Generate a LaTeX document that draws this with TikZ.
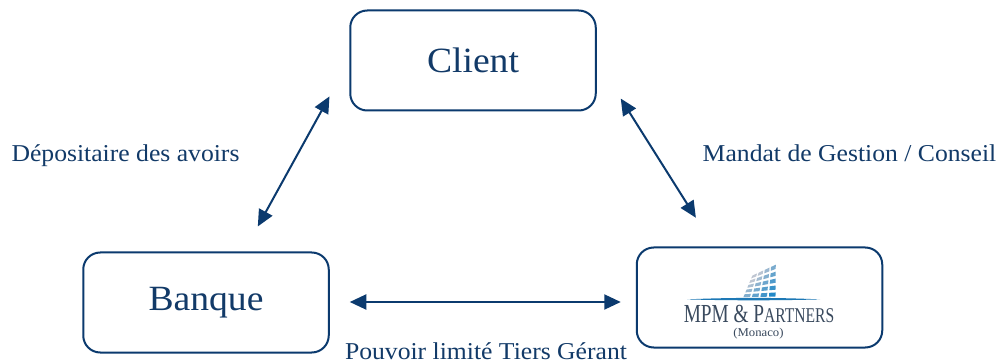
\documentclass[tikz,border=0pt]{standalone}
\usepackage{fontspec}
\setmainfont[FakeStretch=1.06]{Liberation Serif}
\usetikzlibrary{arrows.meta,calc}
\definecolor{navy}{HTML}{0B3A6E}
\definecolor{txt}{HTML}{123A68}
\definecolor{logoT}{HTML}{3A4A5E}
\definecolor{cellA}{HTML}{2389C8}
\definecolor{cellB}{HTML}{BFC6D2}
\tikzset{
 box/.style={draw=navy,line width=2pt,rounded corners=17pt,minimum width=245.5pt,minimum height=100pt,inner sep=0pt,text=txt,font=\fontsize{35.5}{36}\selectfont},
 lab/.style={text=txt,font=\fontsize{24.2}{26}\selectfont,inner sep=0pt,anchor=base},
 link/.style={draw=navy,line width=2pt,{Triangle[length=16.5pt,width=15pt]}-{Triangle[length=16.5pt,width=15pt]}},
 logoname/.style={text=logoT,inner sep=0pt,anchor=base}
}
\begin{document}
\begin{tikzpicture}[x=1pt,y=-1pt]
\useasboundingbox (0,0) rectangle (1003,363);
\fill[white] (0,0) rectangle (1003,363);
\node[box] (client) at (473,60.5) {Client};
\node[box] (banque) at (206,302.5) {Banque};
\node[box] (mpm) at (759.5,297.5) {};
\node[lab] (l1) at (125.5,162) {Dépositaire des avoirs};
\node[lab] (l2) at (849.5,162) {Mandat de Gestion / Conseil};
\node[lab] (l3) at (486,359.5) {Pouvoir limité Tiers Gérant};
\draw[link,shorten <=41pt,shorten >=28.6pt] (client.west) -- ([xshift=38pt]banque.north);
\draw[link,shorten <=45pt,shorten >=34pt] (client.east) -- ([xshift=-45.5pt]mpm.north);
\draw[link,shorten <=20pt,shorten >=15pt] ([yshift=0.5pt]banque.east) -- ([yshift=0.5pt]banque.east -| mpm.west);
% logo
\foreach \i in {0,...,3}{\foreach \j in {0,...,4}{
 \pgfmathsetmacro{\ua}{\i/4+0.03}\pgfmathsetmacro{\ub}{(\i+1)/4-0.03}
 \pgfmathsetmacro{\va}{\j/5+0.04}\pgfmathsetmacro{\vb}{(\j+1)/5-0.04}
 \pgfmathsetmacro{\mixv}{max(0,min(100,100-(\j*14)-(3-\i)*20))}
 \colorlet{cellc}{cellA!\mixv!cellB}
 \fill[cellc]
  ({776.5-(1-\ua)*(34.5-10*\va)},{298-\va*(23+12*\ua)}) --
  ({776.5-(1-\ub)*(34.5-10*\va)},{298-\va*(23+12*\ub)}) --
  ({776.5-(1-\ub)*(34.5-10*\vb)},{298-\vb*(23+12*\ub)}) --
  ({776.5-(1-\ua)*(34.5-10*\vb)},{298-\vb*(23+12*\ua)}) -- cycle;
}}
\fill[cellA!80!navy] (687,299.4) .. controls (730,297.4) and (777,297.4) .. (820,299.4) .. controls (777,300.6) and (730,300.6) .. (687,299.4) -- cycle;
\node[logoname,font=\fontsize{26}{26}\selectfont] (logoa) at (759,322) {\scalebox{0.70}[1]{MPM \& P\fontsize{21}{21}\selectfont ARTNERS}};
\node[logoname,font=\fontsize{12}{12}\selectfont] (logob) at (758.5,336) {(Monaco)};
\end{tikzpicture}
\end{document}
